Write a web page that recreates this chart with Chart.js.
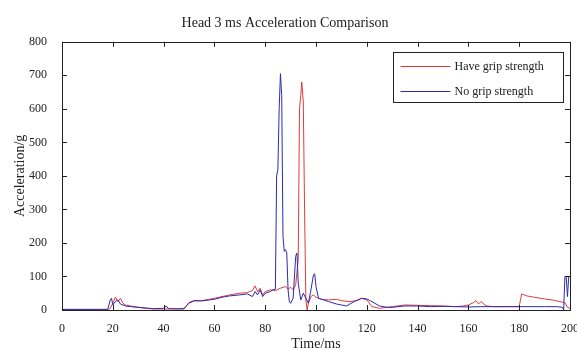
<!DOCTYPE html>
<html>
<head>
<meta charset="utf-8">
<title>Head 3 ms Acceleration Comparison</title>
<script src="https://cdn.jsdelivr.net/npm/chart.js@4/dist/chart.umd.min.js"></script>
<style>
	html, body { margin: 0; padding: 0; background: #fff; }
	#wrap { width: 577px; height: 351px; }
</style>
</head>
<body>
<div id="wrap"><canvas id="accelChart" width="577" height="351"></canvas></div>
<script>
// values (time in ms, acceleration in g)
const gripTime = [0, 18, 19, 20, 21, 22, 23, 24, 25, 27, 30, 33, 36, 40, 45, 48, 50, 52, 55, 58, 60, 63, 66, 70, 73, 75, 76, 77, 78, 79, 80, 82, 84, 86, 88, 89, 90, 91, 92, 93, 93.5, 94, 94.4, 95, 95.5, 96, 96.5, 97, 98, 99, 100, 102, 105, 108, 110, 113, 116, 118, 120, 122, 125, 128, 130, 135, 140, 145, 150, 155, 158, 160, 162, 163, 164, 165, 167, 170, 175, 180, 180.5, 181, 183, 186, 190, 193, 196, 198, 199, 200];
const gripAccel = [1, 1, 5, 20, 38, 25, 35, 20, 15, 12, 8, 5, 3, 3, 4, 5, 20, 27, 28, 32, 35, 40, 45, 50, 52, 58, 72, 55, 65, 45, 55, 60, 58, 65, 70, 62, 68, 60, 75, 150, 600, 640, 680, 620, 300, 30, 0, 20, 40, 45, 38, 32, 30, 32, 28, 25, 28, 35, 30, 10, 5, 8, 10, 15, 14, 13, 12, 10, 12, 15, 22, 28, 18, 25, 12, 10, 10, 10, 30, 48, 42, 38, 33, 30, 25, 22, 8, 5];

const noGripTime = [0, 18, 19, 19.5, 20, 21, 22, 23, 25, 27, 30, 33, 36, 40, 41, 42, 45, 48, 50, 52, 55, 58, 60, 63, 66, 70, 73, 75, 76, 77, 78, 79, 80, 82, 83, 84, 84.5, 85, 85.5, 86, 86.5, 87, 87.5, 88, 88.5, 89, 89.5, 90, 91, 92, 92.5, 93, 94, 95, 96, 97, 98, 99, 99.5, 100, 101, 103, 105, 108, 110, 112, 115, 118, 120, 122, 125, 128, 130, 135, 140, 145, 150, 155, 160, 165, 170, 175, 180, 185, 190, 195, 197, 197.5, 198, 198.5, 199, 199.5, 200];
const noGripAccel = [2, 2, 30, 35, 15, 25, 30, 18, 12, 10, 8, 6, 4, 5, 12, 4, 3, 3, 22, 28, 27, 30, 32, 38, 42, 45, 48, 40, 55, 45, 60, 40, 50, 55, 60, 62, 400, 420, 600, 705, 640, 220, 175, 180, 170, 60, 25, 20, 35, 160, 170, 80, 30, 50, 35, 20, 60, 105, 108, 70, 35, 30, 25, 18, 15, 12, 25, 35, 33, 25, 12, 8, 8, 12, 12, 10, 11, 10, 9, 10, 10, 10, 10, 10, 10, 10, 8, 0, 100, 100, 40, 100, 100];

const seriesNames = ["Have grip strength", "No grip strength"];
const seriesColors = ["#e03a3a", "#2c2cb0"];

const serif = "'Liberation Serif', 'DejaVu Serif', serif";

function toPoints(xs, ys) {
	return xs.map((x, i) => ({ x: x, y: ys[i] }));
}

// MATLAB style frame: box, inward ticks on four sides, legend in the corner
const matlabFrame = {
	id: "matlabFrame",
	afterDatasetsDraw(chart) {
		const ctx = chart.ctx;
		const a = chart.chartArea;
		const xs = chart.scales.x;
		const ys = chart.scales.y;
		ctx.save();
		ctx.strokeStyle = "#222";
		ctx.lineWidth = 1;
		ctx.strokeRect(Math.round(a.left) + 0.5, Math.round(a.top) + 0.5, Math.round(a.right - a.left), Math.round(a.bottom - a.top));
		ctx.beginPath();
		xs.ticks.forEach((t) => {
			const px = Math.round(xs.getPixelForValue(t.value)) + 0.5;
			ctx.moveTo(px, a.bottom);
			ctx.lineTo(px, a.bottom - 5);
			ctx.moveTo(px, a.top);
			ctx.lineTo(px, a.top + 5);
		});
		ys.ticks.forEach((t) => {
			const py = Math.round(ys.getPixelForValue(t.value)) + 0.5;
			ctx.moveTo(a.left, py);
			ctx.lineTo(a.left + 5, py);
			ctx.moveTo(a.right, py);
			ctx.lineTo(a.right - 5, py);
		});
		ctx.stroke();

		// legend
		const bx = 393.5, by = 52.5, bw = 170, bh = 50;
		ctx.fillStyle = "#fff";
		ctx.fillRect(bx, by, bw, bh);
		ctx.strokeRect(bx, by, bw, bh);
		ctx.font = "12px " + serif;
		ctx.textBaseline = "middle";
		chart.data.datasets.forEach((ds, i) => {
			const ry = Math.round(by + 13 + i * 25) + 0.5;
			ctx.strokeStyle = ds.borderColor;
			ctx.beginPath();
			ctx.moveTo(bx + 7, ry);
			ctx.lineTo(bx + 57, ry);
			ctx.stroke();
			ctx.fillStyle = "#222";
			ctx.fillText(ds.label, bx + 61, ry);
		});
		ctx.restore();
	},
};

const ctxAccel = document.getElementById("accelChart").getContext("2d");
const accelChart = new Chart(ctxAccel, {
	type: "line",
	data: {
		datasets: [
			{
				label: seriesNames[0],
				data: toPoints(gripTime, gripAccel),
				borderColor: seriesColors[0],
				borderWidth: 1,
				pointRadius: 0,
				tension: 0,
				order: 1,
			},
			{
				label: seriesNames[1],
				data: toPoints(noGripTime, noGripAccel),
				borderColor: seriesColors[1],
				borderWidth: 1,
				pointRadius: 0,
				tension: 0,
				order: 0,
			},
		],
	},
	options: {
		responsive: false,
		animation: false,
		layout: { padding: { top: 0, right: 7, bottom: 0, left: 0 } },
		plugins: {
			legend: { display: false },
			tooltip: { enabled: false },
			title: {
				display: true,
				text: "Head 3 ms Acceleration Comparison",
				color: "#222",
				font: { family: serif, size: 14, weight: "normal" },
				padding: { top: 15, bottom: 10 },
			},
		},
		scales: {
			x: {
				type: "linear",
				min: 0,
				max: 200,
				grid: { display: false },
				border: { display: false },
				ticks: {
					stepSize: 20,
					color: "#222",
					padding: 4,
					maxRotation: 0,
					font: { family: serif, size: 12 },
				},
				title: {
					display: true,
					text: "Time/ms",
					color: "#222",
					font: { family: serif, size: 14 },
					padding: { top: 0, bottom: -2 },
				},
				afterFit(scale) {
					scale.height = 41;
					scale.paddingLeft = 0;
					scale.paddingRight = 0;
				},
			},
			y: {
				min: 0,
				max: 800,
				grid: { display: false },
				border: { display: false },
				ticks: {
					stepSize: 100,
					color: "#222",
					padding: 7,
					font: { family: serif, size: 12 },
				},
				title: {
					display: true,
					text: "Acceleration/g",
					color: "#222",
					font: { family: serif, size: 14 },
					padding: { top: 12, bottom: 0 },
				},
				afterFit(scale) {
					scale.width = 62;
					scale.paddingTop = 0;
					scale.paddingBottom = 0;
				},
			},
		},
	},
	plugins: [matlabFrame],
});
</script>
</body>
</html>
